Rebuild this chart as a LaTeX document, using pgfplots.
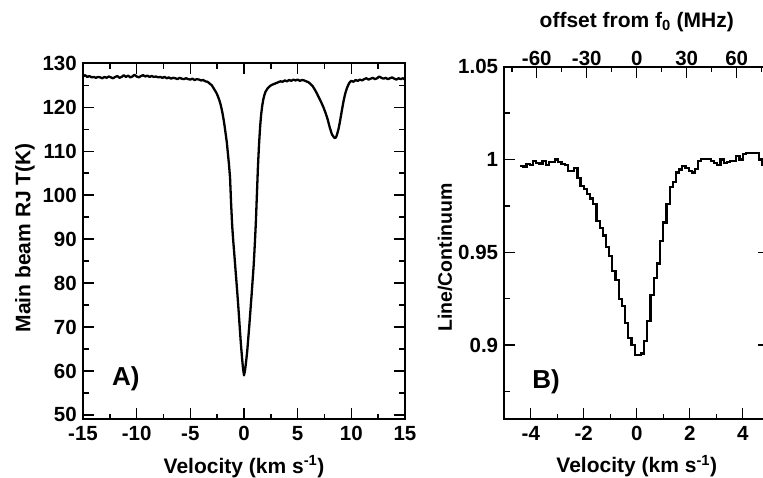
\documentclass[border=0pt]{standalone}
\usepackage{fontspec}
\setmainfont{Liberation Sans}
\usepackage{pgfplots}
\pgfplotsset{compat=1.18}

\pgfplotsset{
  panel/.style={
    scale only axis, anchor=south west,
    axis line style={line width=2pt},
    tick align=inside,
    major tick length=11pt, minor tick length=5.5pt,
    every tick/.style={line width=1.4pt, black},
    tick label style={font=\fontsize{20.5}{24}\selectfont\bfseries},
    xticklabel style={inner sep=0pt, yshift=-7pt},
    yticklabel style={inner sep=0pt, xshift=-6pt},
    label style={font=\fontsize{21}{25}\selectfont\bfseries},
    /pgf/number format/assume math mode=true,
  },
}

\begin{document}
\begin{tikzpicture}[x=1pt,y=1pt]

% panel A: main beam temperature
\begin{axis}[panel,
  at={(83pt,57.7pt)}, width=322pt, height=356pt,
  xmin=-15, xmax=15, ymin=49, ymax=130,
  xtick={-15,-10,...,15}, minor x tick num=1,
  ytick={50,60,...,130}, minor y tick num=1,
  xlabel={Velocity (km s\textsuperscript{-1})},
  xlabel style={at={(axis description cs:0.5,-0.151)}, anchor=base},
  ylabel={Main beam RJ T(K)},
  ylabel style={at={(axis description cs:-0.18,0.51)}, anchor=center},
]
\addplot[black, line width=2.3pt, line join=round] coordinates {
(-15.0,127.0) (-14.8,127.3) (-14.6,126.9) (-14.4,127.1) (-14.2,126.8) (-14.0,126.9)
(-13.8,126.7) (-13.6,126.9) (-13.4,126.8) (-13.2,126.6) (-13.0,126.9) (-12.8,126.7)
(-12.6,127.0) (-12.4,126.8) (-12.2,126.6) (-12.0,126.9) (-11.8,127.1) (-11.6,126.7)
(-11.4,126.9) (-11.2,127.3) (-11.0,126.9) (-10.8,127.2) (-10.6,126.8) (-10.4,127.0)
(-10.2,127.4) (-10.0,127.0) (-9.8,126.8) (-9.6,127.1) (-9.4,127.3) (-9.2,127.0)
(-9.0,127.2) (-8.8,126.9) (-8.6,127.1) (-8.4,126.9) (-8.2,127.0) (-8.0,126.8)
(-7.8,126.9) (-7.6,126.7) (-7.4,126.9) (-7.2,126.6) (-7.0,126.8) (-6.8,126.5)
(-6.6,126.7) (-6.4,126.6) (-6.2,126.4) (-6.0,126.7) (-5.8,126.5) (-5.6,126.4)
(-5.4,126.6) (-5.2,126.4) (-5.0,126.3) (-4.8,126.5) (-4.6,126.2) (-4.4,126.4)
(-4.2,126.3) (-4.0,126.1) (-3.8,126.2) (-3.6,125.9) (-3.4,125.8) (-3.2,125.4)
(-3.0,125.0) (-2.9,124.6) (-2.8,124.2) (-2.7,123.8) (-2.6,123.4) (-2.5,122.9)
(-2.4,122.3) (-2.3,121.6) (-2.2,120.8) (-2.1,119.8) (-2.0,118.6) (-1.9,117.2)
(-1.8,115.6) (-1.7,113.8) (-1.6,112.0) (-1.5,109.5) (-1.4,107.0) (-1.3,104.0)
(-1.2,98.0) (-1.1,93.0) (-1.0,89.5) (-0.9,86.5) (-0.8,83.3) (-0.7,80.2)
(-0.6,77.0) (-0.5,73.6) (-0.4,70.0) (-0.3,66.5) (-0.2,63.5) (-0.1,60.8)
(0.0,59.0) (0.1,60.2) (0.2,62.2) (0.3,64.5) (0.4,67.5) (0.5,70.5)
(0.6,73.8) (0.7,77.0) (0.8,80.5) (0.9,84.0) (1.0,88.5) (1.1,93.5)
(1.2,100.0) (1.3,106.5) (1.4,111.5) (1.5,115.5) (1.6,118.4) (1.7,120.4)
(1.8,121.8) (1.9,122.8) (2.0,123.5) (2.2,124.3) (2.4,124.8) (2.6,125.1)
(2.8,125.3) (3.0,125.5) (3.2,125.7) (3.4,125.9) (3.6,125.8) (3.8,126.1)
(4.0,125.9) (4.2,126.2) (4.4,126.0) (4.6,126.3) (4.8,126.1) (5.0,126.3)
(5.2,126.0) (5.4,126.2) (5.6,126.1) (5.8,125.9) (6.0,125.7) (6.2,125.3)
(6.4,124.8) (6.6,124.0) (6.8,123.1) (7.0,122.1) (7.2,121.1) (7.4,120.0)
(7.6,118.7) (7.8,117.2) (8.0,115.3) (8.2,113.8) (8.4,113.1) (8.5,113.0)
(8.6,113.3) (8.7,114.1) (8.8,115.0) (8.9,116.2) (9.0,117.6) (9.1,119.0)
(9.2,120.4) (9.3,121.7) (9.4,122.8) (9.5,123.7) (9.6,124.4) (9.7,125.0)
(9.8,125.5) (9.9,125.8) (10.0,126.0) (10.2,125.8) (10.4,126.2) (10.6,126.0)
(10.8,126.3) (11.0,126.1) (11.2,126.4) (11.4,126.6) (11.6,126.3) (11.8,126.5)
(12.0,126.7) (12.2,126.4) (12.4,126.6) (12.6,127.0) (12.8,126.7) (13.0,126.5)
(13.2,126.7) (13.4,126.4) (13.6,126.6) (13.8,126.8) (14.0,126.5) (14.2,126.3)
(14.4,126.6) (14.6,126.4) (14.8,126.6) (15.0,126.3)
};
\node[font=\fontsize{26}{30}\selectfont\bfseries, anchor=base west, inner sep=0pt]
  at (axis cs:-12.3,56.8) {A)};
\end{axis}

% panel B: line to continuum ratio
\begin{axis}[panel,
  at={(504.3pt,57.7pt)}, width=264.9pt, height=352.6pt,
  xmin=-5, xmax=5, ymin=0.86, ymax=1.05,
  xtick={-4,-2,...,4}, minor x tick num=1, xtick pos=bottom,
  ytick={0.9,0.95,1,1.05}, yticklabels={0.9,0.95,1,1.05},
  minor ytick={0.875,0.925,0.975,1.025},
  xlabel={Velocity (km s\textsuperscript{-1})},
  xlabel style={at={(axis description cs:0.5,-0.152)}, anchor=base},
  ylabel={Line/Continuum},
  ylabel style={at={(axis description cs:-0.224,0.459)}, anchor=center,
    font=\fontsize{19.5}{23}\selectfont\bfseries},
]
\addplot[black, line width=2.2pt, const plot mark left] coordinates {
(-4.40,0.9964) (-4.28,0.9962) (-4.16,0.9975) (-4.04,0.9972) (-3.92,0.9990) (-3.80,0.9982)
(-3.68,0.9978) (-3.56,0.9990) (-3.44,0.9970) (-3.32,0.9988) (-3.20,0.9985) (-3.08,1.0000)
(-2.96,0.9986) (-2.84,0.9974) (-2.72,0.9972) (-2.60,0.9937) (-2.48,0.9940) (-2.36,0.9952)
(-2.24,0.9900) (-2.12,0.9857) (-2.00,0.9840) (-1.88,0.9815) (-1.76,0.9790) (-1.64,0.9760)
(-1.52,0.9670) (-1.40,0.9630) (-1.28,0.9590) (-1.16,0.9530) (-1.04,0.9480) (-0.92,0.9400)
(-0.80,0.9350) (-0.68,0.9250) (-0.56,0.9210) (-0.44,0.9120) (-0.32,0.9040) (-0.20,0.9000)
(-0.08,0.8946) (0.04,0.8946) (0.16,0.8955) (0.28,0.9020) (0.40,0.9130) (0.52,0.9270)
(0.64,0.9360) (0.76,0.9440) (0.88,0.9560) (1.00,0.9660) (1.12,0.9760) (1.24,0.9850)
(1.36,0.9880) (1.48,0.9930) (1.60,0.9946) (1.72,0.9964) (1.84,0.9955) (1.96,0.9940)
(2.08,0.9930) (2.20,0.9950) (2.32,0.9990) (2.44,1.0004) (2.56,1.0003) (2.68,1.0004)
(2.80,0.9990) (2.92,0.9980) (3.04,0.9970) (3.16,1.0000) (3.28,0.9980) (3.40,0.9985)
(3.52,0.9990) (3.64,0.9992) (3.76,1.0020) (3.88,1.0000) (4.00,1.0030) (4.12,1.0036)
(4.24,1.0036) (4.36,1.0036) (4.48,1.0036) (4.60,1.0000) (4.72,0.9970) (4.84,0.9980)
(4.96,0.9980)
};
\node[font=\fontsize{26}{30}\selectfont\bfseries, anchor=base west, inner sep=0pt]
  at (axis cs:-3.95,0.8768) {B)};
\end{axis}

% top frequency scale of panel B
\begin{axis}[panel,
  at={(504.3pt,57.7pt)}, width=264.9pt, height=352.6pt,
  xmin=-79.5, xmax=79.5, ymin=0, ymax=1,
  axis x line*=top, axis y line=none, ytick=\empty,
  xtick={-60,-30,0,30,60}, minor xtick={-75,-45,-15,15,45,75},
  xticklabel style={inner sep=0pt, yshift=8pt},
  xlabel={offset from f\textsubscript{0} (MHz)},
  xlabel style={at={(axis description cs:0.5,1)}, anchor=base, yshift=39.4pt},
]
\end{axis}

\pgfresetboundingbox
\path (0pt,0pt) rectangle (763pt,477pt);
\end{tikzpicture}
\end{document}
